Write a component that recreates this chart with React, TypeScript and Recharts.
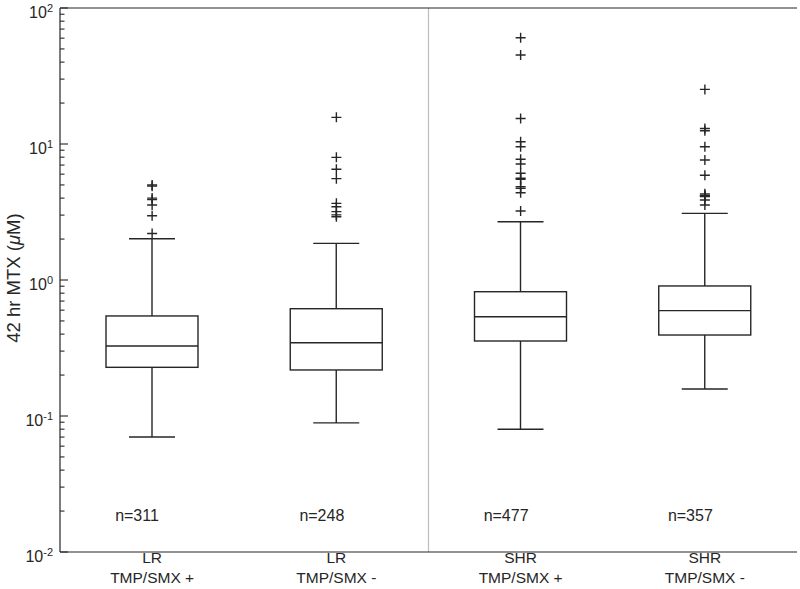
import { ComposedChart, Bar, Scatter, XAxis, YAxis, ReferenceLine, Label } from 'recharts';

const INK = '#262626';
const FONT = '"Liberation Sans", Arial, Helvetica, sans-serif';

// categories
const groups = ['LR', 'LR', 'SHR', 'SHR'];
const treatments = ['TMP/SMX +', 'TMP/SMX -', 'TMP/SMX +', 'TMP/SMX -'];
const counts = [311, 248, 477, 357];

// box statistics (42 hr MTX, µM)
const whiskerLow = [0.07, 0.089, 0.08, 0.158];
const q1 = [0.228, 0.218, 0.356, 0.394];
const medians = [0.327, 0.346, 0.537, 0.595];
const q3 = [0.544, 0.615, 0.82, 0.904];
const whiskerHigh = [2.01, 1.86, 2.68, 3.09];

const outliers = [
  [5.0, 4.9, 4.0, 3.9, 3.56, 2.97, 2.2],
  [15.7, 7.98, 6.52, 5.56, 3.66, 3.46, 3.18, 3.01, 2.92],
  [60.5, 45.1, 15.4, 10.4, 9.55, 7.72, 7.13, 6.09, 5.6, 5.5, 4.85, 4.72, 4.38, 3.22],
  [25.2, 13.0, 12.5, 9.55, 7.63, 5.89, 4.3, 4.2, 4.15, 4.1, 3.87, 3.56],
];

// where the n= labels sit, in data units
const countLabelLevel = 0.0184;

const majorTicks = [0.01, 0.1, 1, 10, 100];
const yTicks = [
  ...majorTicks.slice(0, -1).flatMap((m) =>
    [1, 2, 3, 4, 5, 6, 7, 8, 9].map((k) => +(k * m).toPrecision(3))
  ),
  100,
];

const names = groups.map((g, i) => `${g}\n${treatments[i]}`);

const rows = names.map((name, i) => ({
  name,
  lowWhisker: [whiskerLow[i], q1[i]],
  box: [q1[i], q3[i]],
  median: [q1[i], medians[i]],
  highWhisker: [q3[i], whiskerHigh[i]],
}));

const countRows = names.map((name, i) => ({ name, v: countLabelLevel, text: `n=${counts[i]}` }));
const outlierRows = names.flatMap((name, i) => outliers[i].map((v) => ({ name, v })));

const SW = 1.4;

const top = (y: number, h: number) => Math.min(y, y + h);
const bottom = (y: number, h: number) => Math.max(y, y + h);

const BoxShape = (p: any) => (
  <rect
    x={p.x}
    y={top(p.y, p.height)}
    width={p.width}
    height={Math.abs(p.height)}
    fill="none"
    stroke={INK}
    strokeWidth={SW}
  />
);

const MedianShape = (p: any) => {
  const y = top(p.y, p.height);
  return <line x1={p.x} x2={p.x + p.width} y1={y} y2={y} stroke={INK} strokeWidth={SW} />;
};

const HighWhiskerShape = (p: any) => {
  const cx = p.x + p.width / 2;
  const y0 = top(p.y, p.height);
  const y1 = bottom(p.y, p.height);
  return (
    <g stroke={INK} strokeWidth={SW}>
      <line x1={cx} x2={cx} y1={y0} y2={y1} />
      <line x1={cx - p.width / 4} x2={cx + p.width / 4} y1={y0} y2={y0} />
    </g>
  );
};

const LowWhiskerShape = (p: any) => {
  const cx = p.x + p.width / 2;
  const y0 = top(p.y, p.height);
  const y1 = bottom(p.y, p.height);
  return (
    <g stroke={INK} strokeWidth={SW}>
      <line x1={cx} x2={cx} y1={y0} y2={y1} />
      <line x1={cx - p.width / 4} x2={cx + p.width / 4} y1={y1} y2={y1} />
    </g>
  );
};

const PlusShape = (p: any) => (
  <g stroke={INK} strokeWidth={SW}>
    <line x1={p.cx - 5} x2={p.cx + 5} y1={p.cy} y2={p.cy} />
    <line x1={p.cx} x2={p.cx} y1={p.cy - 5} y2={p.cy + 5} />
  </g>
);

const CountText = (p: any) => (
  <text
    x={p.cx - 37}
    y={p.cy + 5.5}
    fontSize={16}
    fontFamily={FONT}
    fill={INK}
  >
    {p.payload.text}
  </text>
);

const isMajor = (v: number) => {
  const e = Math.log10(v);
  return Math.abs(e - Math.round(e)) < 1e-6;
};

const LeftTick = (p: any) => {
  const v = p.payload.value;
  const major = isMajor(v);
  return (
    <g>
      <line x1={p.x} x2={p.x + (major ? 8 : 4.5)} y1={p.y} y2={p.y} stroke={INK} strokeWidth={1.1} />
      {major && (
        <text x={p.x - 7} y={p.y + 9.5} textAnchor="end" fontSize={16} fontFamily={FONT} fill={INK}>
          10
          <tspan dy={-6} fontSize={11}>
            {Math.round(Math.log10(v))}
          </tspan>
        </text>
      )}
    </g>
  );
};

const RightTick = (p: any) => {
  const major = isMajor(p.payload.value);
  return (
    <line x1={p.x} x2={p.x - (major ? 8 : 4.5)} y1={p.y} y2={p.y} stroke={INK} strokeWidth={1.1} />
  );
};

const XTick = (p: any) => {
  const [g, t] = String(p.payload.value).split('\n');
  return (
    <text x={p.x} textAnchor="middle" fontSize={15.5} fontFamily={FONT} fill={INK}>
      <tspan x={p.x} y={p.y + 11}>
        {g}
      </tspan>
      <tspan x={p.x} y={p.y + 31}>
        {t}
      </tspan>
    </text>
  );
};

const YTitle = (p: any) => {
  const vb = p.viewBox;
  const cy = vb.y + vb.height / 2 - 2;
  const cx = 13;
  return (
    <text
      x={cx}
      y={cy}
      transform={`rotate(-90, ${cx}, ${cy})`}
      textAnchor="middle"
      dominantBaseline="central"
      fontSize={18.5}
      fontFamily={FONT}
      fill={INK}
    >
      42 hr MTX (<tspan fontStyle="italic">μ</tspan>M)
    </text>
  );
};

export default function App() {
  return (
    <div style={{ position: 'absolute', left: 0, top: 0, background: '#fff', fontFamily: FONT }}>
      <ComposedChart
        width={800}
        height={589}
        data={rows}
        margin={{ top: 8, right: 3, bottom: 0, left: 0 }}
        barSize={92}
        barGap={-92}
      >
        <XAxis
          dataKey="name"
          type="category"
          allowDuplicatedCategory={false}
          height={37}
          interval={0}
          tickLine={false}
          tickSize={0}
          tickMargin={0}
          tick={<XTick />}
          axisLine={{ stroke: INK, strokeWidth: 1.2 }}
        />
        <YAxis
          yAxisId="left"
          type="number"
          scale="log"
          domain={[0.01, 100]}
          allowDataOverflow
          ticks={yTicks}
          interval={0}
          width={60}
          tickLine={false}
          tickSize={0}
          tickMargin={0}
          tick={<LeftTick />}
          axisLine={{ stroke: INK, strokeWidth: 1.2 }}
        >
          <Label content={<YTitle />} />
        </YAxis>
        <YAxis
          yAxisId="right"
          orientation="right"
          type="number"
          scale="log"
          domain={[0.01, 100]}
          allowDataOverflow
          ticks={yTicks}
          interval={0}
          width={0}
          tickLine={false}
          tickSize={0}
          tickMargin={0}
          tick={<RightTick />}
          axisLine={{ stroke: INK, strokeWidth: 1.2 }}
        />
        <Scatter
          yAxisId="left"
          data={countRows}
          dataKey="v"
          shape={<CountText />}
          isAnimationActive={false}
        />
        <ReferenceLine yAxisId="left" x={names[1]} position="end" stroke="#bdbdbd" strokeWidth={1.2} />
        <ReferenceLine yAxisId="left" y={100} stroke={INK} strokeWidth={1.2} />
        <Bar yAxisId="left" dataKey="lowWhisker" shape={<LowWhiskerShape />} isAnimationActive={false} />
        <Bar yAxisId="left" dataKey="box" shape={<BoxShape />} isAnimationActive={false} />
        <Bar yAxisId="left" dataKey="median" shape={<MedianShape />} isAnimationActive={false} />
        <Bar yAxisId="left" dataKey="highWhisker" shape={<HighWhiskerShape />} isAnimationActive={false} />
        <Scatter
          yAxisId="left"
          data={outlierRows}
          dataKey="v"
          shape={<PlusShape />}
          isAnimationActive={false}
        />
      </ComposedChart>
    </div>
  );
}
